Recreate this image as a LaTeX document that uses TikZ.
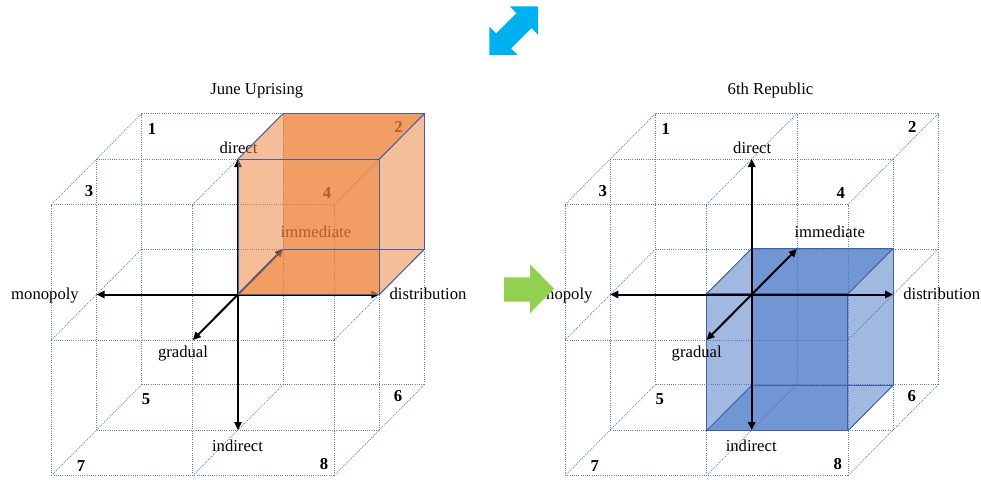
\documentclass[tikz,border=0pt]{standalone}
\usepackage{fontspec}
\setmainfont{Liberation Serif}
\usetikzlibrary{arrows.meta}
\definecolor{gridblue}{HTML}{5B83CC}
\definecolor{cubeorange}{HTML}{ED7D31}
\definecolor{cubeblue}{HTML}{4472C4}
\definecolor{edgeblue}{HTML}{41609F}
\definecolor{arrowcyan}{HTML}{00B0F0}
\definecolor{arrowgreen}{HTML}{92D050}

% grid of one cube + named axis coordinates
\newcommand{\cubegrid}[2]{%
  \begin{scope}[shift={(#2,294.5)}, iso]
    \foreach \a in {-1,0,1}{
      \foreach \b in {-1,0,1}{
        \draw[gridline] (-1,\a,\b) -- (1,\a,\b);
        \draw[gridline] (\a,-1,\b) -- (\a,1,\b);
        \draw[gridline] (\a,\b,-1) -- (\a,\b,1);
      }
    }
    \coordinate (#1o) at (0,0,0);
    \coordinate (#1up) at (0,1,0);
    \coordinate (#1down) at (0,-1,0);
    \coordinate (#1left) at (-1,0,0);
    \coordinate (#1right) at (1,0,0);
    \coordinate (#1back) at (0,0,1);
    \coordinate (#1front) at (0,0,-1);
  \end{scope}}

% labels of one cube (positions of the left cube, shifted)
\newcommand{\cubelabels}[2]{%
  \begin{scope}[shift={(#2,0)}]
    \node[numlabel] (#1n1) at (152,129) {1};
    \node[numlabel] (#1n2) at (398.5,127) {2};
    \node[numlabel] (#1n3) at (89,191) {3};
    \node[numlabel] (#1n4) at (327,193) {4};
    \node[numlabel] (#1n5) at (146,399) {5};
    \node[numlabel] (#1n6) at (398,396) {6};
    \node[numlabel] (#1n7) at (81,466) {7};
    \node[numlabel] (#1n8) at (324,464) {8};
    \node[axislabel] (#1direct) at (238.5,148) {direct};
    \node[axislabel] (#1indirect) at (237.5,445.5) {indirect};
    \node[axislabel] (#1monopoly) at (45,295.5) {monopoly};
    \node[axislabel] (#1distribution) at (428,293.5) {distribution};
    \node[axislabel] (#1immediate) at (316,232) {immediate};
    \node[axislabel] (#1gradual) at (183,353.5) {gradual};
  \end{scope}}

\newcommand{\cubeaxes}[1]{%
  \draw[axisarrow] (#1o) -- (#1up);
  \draw[axisarrow] (#1o) -- (#1down);
  \draw[axisarrow] (#1o) -- (#1left);
  \draw[axisarrow] (#1o) -- (#1right);
  \draw[axisarrow] (#1o) -- (#1back);
  \draw[axisarrow] (#1o) -- (#1front);}

% transparent box: #1 colour, x0,x1,y0,y1,z0,z1
\newcommand{\glassbox}[7]{%
  \fill[cubeface, #1] (#2,#4,#6) -- (#3,#4,#6) -- (#3,#5,#6) -- (#2,#5,#6) -- cycle;
  \fill[cubeface, #1] (#2,#4,#7) -- (#3,#4,#7) -- (#3,#5,#7) -- (#2,#5,#7) -- cycle;
  \fill[cubeface, #1] (#2,#5,#6) -- (#3,#5,#6) -- (#3,#5,#7) -- (#2,#5,#7) -- cycle;
  \fill[cubeface, #1] (#2,#4,#6) -- (#3,#4,#6) -- (#3,#4,#7) -- (#2,#4,#7) -- cycle;
  \draw[cubeedge] (#2,#4,#6) rectangle (#3,#5,#6);
  \draw[cubeedge] (#2,#5,#7) -- (#3,#5,#7) -- (#3,#4,#7) -- (#2,#4,#7);
  \draw[cubeedge] (#2,#5,#6) -- (#2,#5,#7);
  \draw[cubeedge] (#3,#5,#6) -- (#3,#5,#7);
  \draw[cubeedge] (#3,#4,#6) -- (#3,#4,#7);
  \draw[cubeedge] (#2,#4,#6) -- (#2,#4,#7);}

\begin{document}
\begin{tikzpicture}[x=0.75pt, y=-0.75pt,
  iso/.style={x={(106.05pt,0pt)}, y={(0pt,101.625pt)}, z={(33.9pt,34.125pt)}},
  gridline/.style={draw=gridblue, line width=0.6pt, dash pattern=on 0.75pt off 0.9pt},
  axislabel/.style={font=\fontsize{12.5}{14}\selectfont, inner sep=0pt},
  numlabel/.style={font=\fontsize{12.5}{14}\selectfont\bfseries, inner sep=0pt},
  titlelabel/.style={font=\fontsize{12.5}{14}\selectfont, inner sep=0pt},
  axisarrow/.style={-{Triangle[length=6pt,width=5.5pt]}, line width=1.5pt, draw=black},
  cubeface/.style={fill opacity=0.5},
  cubeedge/.style={draw=edgeblue, line width=0.75pt},
]
\useasboundingbox (0,0) rectangle (981,479);

% double arrow icon
\begin{scope}[shift={(513.8,30.8)}, rotate=45]
  \fill[arrowcyan] (34.4,0) -- (14.4,20) -- (14.4,10.6) -- (-14.4,10.6) -- (-14.4,20)
    -- (-34.4,0) -- (-14.4,-20) -- (-14.4,-10.6) -- (14.4,-10.6) -- (14.4,-20) -- cycle;
\end{scope}

% titles
\node[titlelabel] (ltitle) at (256.8,90.5) {June Uprising};
\node[titlelabel] (rtitle) at (770.5,90.5) {6th Republic};

% ---- left cube ----
\cubegrid{L}{238}
\cubelabels{L}{0}
\cubeaxes{L}
\begin{scope}[shift={(238,294.5)}, iso]
  \glassbox{cubeorange}{0}{1}{0}{1}{0}{1}
\end{scope}

% ---- right cube ----
\cubegrid{R}{751.7}
\begin{scope}[shift={(751.7,294.5)}, iso]
  \glassbox{cubeblue}{0}{1}{-0.67}{0.34}{-1}{0}
\end{scope}
\cubeaxes{R}
\cubelabels{R}{513.7}

% green arrow
\fill[arrowgreen] (504,277.3) -- (530,277.3) -- (530,264.3) -- (554,288.7)
  -- (530,313.3) -- (530,301.7) -- (504,301.7) -- cycle;
\end{tikzpicture}
\end{document}
